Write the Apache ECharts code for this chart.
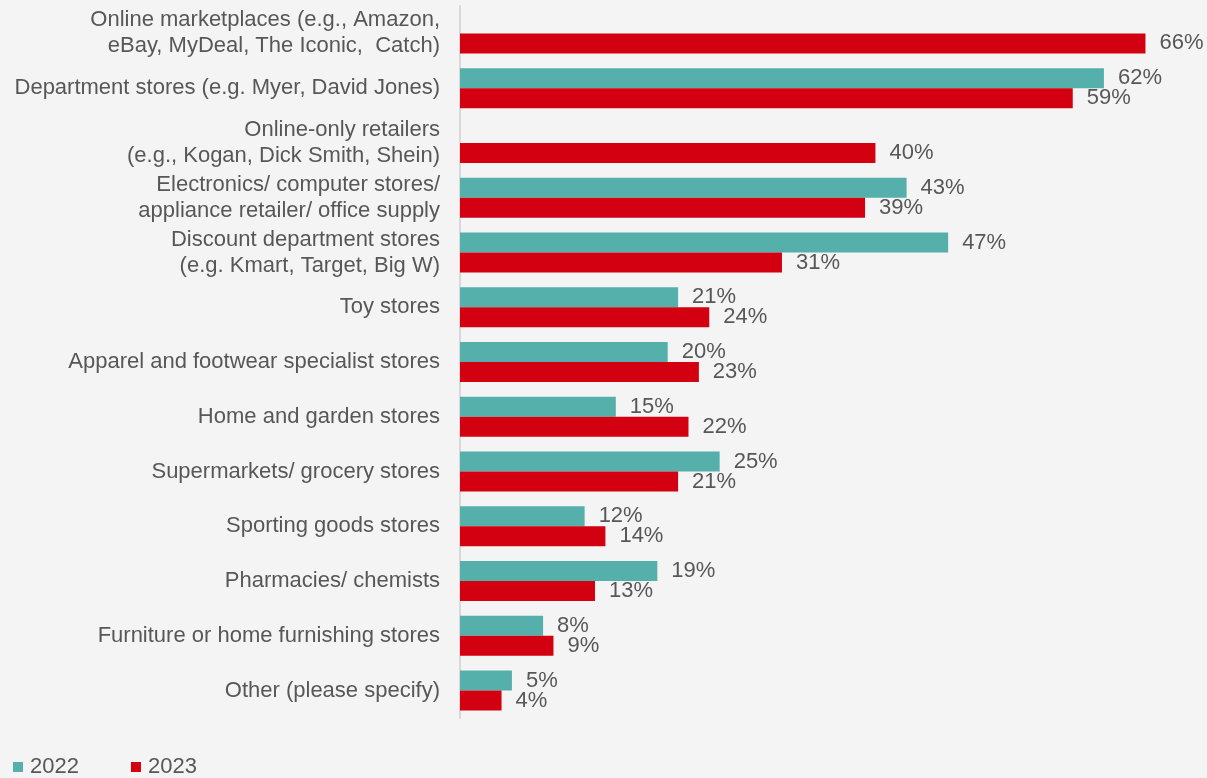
<!DOCTYPE html>
<html>
<head>
<meta charset="utf-8">
<script src="https://cdn.jsdelivr.net/npm/echarts@6/dist/echarts.min.js"></script>
<style>
  html, body { margin: 0; padding: 0; background: #f4f4f4; }
  #chart { width: 1207px; height: 778px; }
</style>
</head>
<body>
<div id="chart"></div>
<script>
// Retail channels, share of respondents (%)
const categories = [
  'Online marketplaces (e.g., Amazon,\neBay, MyDeal, The Iconic,  Catch)',
  'Department stores (e.g. Myer, David Jones)',
  'Online-only retailers\n(e.g., Kogan, Dick Smith, Shein)',
  'Electronics/ computer stores/\nappliance retailer/ office supply',
  'Discount department stores\n(e.g. Kmart, Target, Big W)',
  'Toy stores',
  'Apparel and footwear specialist stores',
  'Home and garden stores',
  'Supermarkets/ grocery stores',
  'Sporting goods stores',
  'Pharmacies/ chemists',
  'Furniture or home furnishing stores',
  'Other (please specify)'
];
const values2022 = [null, 62, null, 43, 47, 21, 20, 15, 25, 12, 19, 8, 5];
const values2023 = [66, 59, 40, 39, 31, 24, 23, 22, 21, 14, 13, 9, 4];
const seriesNames = ['2022', '2023'];

const FONT = '"Liberation Sans", Arial, Helvetica, sans-serif';
const TEXT = '#575757';

const chart = echarts.init(document.getElementById('chart'));
const valueLabel = {
  show: true,
  position: 'right',
  distance: 14,
  formatter: '{c}%',
  fontFamily: FONT,
  fontSize: 22,
  color: TEXT
};
chart.setOption({
  backgroundColor: '#f4f4f4',
  animation: false,
  textStyle: { fontFamily: FONT },
  grid: { left: 460, right: 20, top: 6, bottom: 60, containLabel: false },
  legend: {
    left: 13,
    top: 756,
    padding: 0,
    icon: 'rect',
    itemWidth: 10,
    itemHeight: 10,
    itemGap: 52,
    textStyle: { fontFamily: FONT, fontSize: 22, color: TEXT, padding: [0, 0, 0, 2] },
    data: seriesNames
  },
  xAxis: {
    type: 'value',
    min: 0,
    max: 70,
    show: false
  },
  yAxis: {
    type: 'category',
    data: categories,
    inverse: true,
    axisLine: { show: true, lineStyle: { color: '#d9d9d9', width: 2 } },
    axisTick: { show: false },
    splitLine: { show: false },
    axisLabel: {
      margin: 20,
      fontFamily: FONT,
      fontSize: 22,
      lineHeight: 26,
      color: TEXT,
      align: 'right',
      padding: [2, 0, 0, 0]
    }
  },
  series: [
    {
      name: seriesNames[0],
      type: 'bar',
      data: values2022,
      barWidth: 20,
      barGap: '0%',
      itemStyle: { color: '#55afab' },
      label: valueLabel
    },
    {
      name: seriesNames[1],
      type: 'bar',
      data: values2023,
      barWidth: 20,
      barGap: '0%',
      itemStyle: { color: '#d20011' },
      label: valueLabel
    }
  ]
});
</script>
</body>
</html>
